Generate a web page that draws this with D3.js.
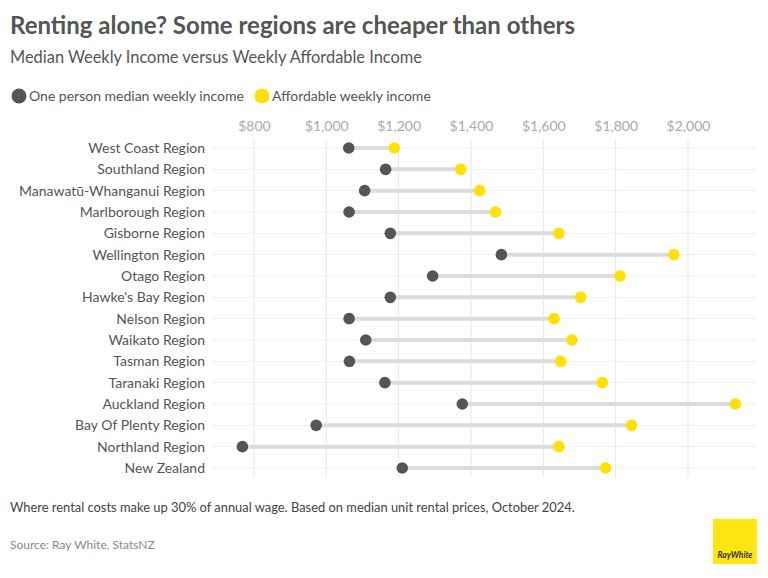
<!DOCTYPE html>
<html>
<head>
<meta charset="utf-8">
<script src="https://cdn.jsdelivr.net/npm/d3@7/dist/d3.min.js"></script>
<style>
  body { margin: 0; background: #fff; }
  svg { display: block; font-family: Lato, "Open Sans", sans-serif; }
</style>
</head>
<body>
<svg id="chart" width="768" height="578"></svg>
<script>
const regions = ["West Coast Region","Southland Region","Manawatū-Whanganui Region","Marlborough Region","Gisborne Region","Wellington Region","Otago Region","Hawke's Bay Region","Nelson Region","Waikato Region","Tasman Region","Taranaki Region","Auckland Region","Bay Of Plenty Region","Northland Region","New Zealand"];
const medianIncome = [1062,1164,1106,1063,1177,1484,1294,1177,1063,1109,1064,1162,1376,972,768,1210];
const affordableIncome = [1188,1372,1424,1468,1643,1961,1812,1703,1630,1679,1648,1763,2131,1844,1643,1772];
const tickValues = [800,1000,1200,1400,1600,1800,2000];
const seriesNames = ["One person median weekly income","Affordable weekly income"];
const seriesColors = ["#555555","#ffe100"];

const svg = d3.select("#chart");
const x = d3.scaleLinear().domain([684, 2188]).range([212, 756]);
const y = d3.scalePoint().domain(regions).range([148, 468]);

// Title etc
svg.append("text").attr("x", 10).attr("y", 34).attr("font-size", 24).attr("font-weight", 700)
  .attr("fill", "#555").text("Renting alone? Some regions are cheaper than others");
svg.append("text").attr("x", 10).attr("y", 63).attr("font-size", 16.4)
  .attr("fill", "#555").text("Median Weekly Income versus Weekly Affordable Income");

// Legend
const legendX = [19, 262];
seriesNames.forEach((n, i) => {
  svg.append("circle").attr("cx", legendX[i]).attr("cy", 96).attr("r", 7.5).attr("fill", seriesColors[i]);
  svg.append("text").attr("x", legendX[i] + 10).attr("y", 101).attr("font-size", 14)
    .attr("fill", "#555").text(n);
});

// Vertical grid + top axis
const gAxis = svg.append("g").attr("transform", "translate(0,140)");
gAxis.call(d3.axisTop(x).tickValues(tickValues).tickSize(0).tickPadding(0)
  .tickFormat(d => "$" + d3.format(",")(d)));
gAxis.select(".domain").remove();
gAxis.selectAll("text").attr("font-family", "Lato, sans-serif").attr("font-size", 14)
  .attr("fill", "#aaa").attr("y", -9);

svg.append("g").selectAll("line").data(tickValues).join("line")
  .attr("x1", d => x(d)).attr("x2", d => x(d)).attr("y1", 140).attr("y2", 477)
  .attr("stroke", "#e6e6e6").attr("stroke-width", 1);

// Horizontal grid
svg.append("g").selectAll("line").data(regions).join("line")
  .attr("x1", 212).attr("x2", 756).attr("y1", d => y(d)).attr("y2", d => y(d))
  .attr("stroke", "#eeeeee").attr("stroke-width", 1);

// Row labels
const gY = svg.append("g").attr("transform", "translate(205,0)");
gY.call(d3.axisLeft(y).tickSize(0).tickPadding(0));
gY.select(".domain").remove();
gY.selectAll("text").attr("font-family", "Lato, sans-serif").attr("font-size", 14)
  .attr("fill", "#555");

// Connectors
svg.append("g").selectAll("line").data(regions).join("line")
  .attr("x1", (d, i) => x(medianIncome[i])).attr("x2", (d, i) => x(affordableIncome[i]))
  .attr("y1", d => y(d)).attr("y2", d => y(d))
  .attr("stroke", "#dcdcdc").attr("stroke-width", 4);

// Dots
svg.append("g").selectAll("circle").data(regions).join("circle")
  .attr("cx", (d, i) => x(medianIncome[i])).attr("cy", d => y(d)).attr("r", 5.8)
  .attr("fill", seriesColors[0]);
svg.append("g").selectAll("circle").data(regions).join("circle")
  .attr("cx", (d, i) => x(affordableIncome[i])).attr("cy", d => y(d)).attr("r", 5.8)
  .attr("fill", seriesColors[1]);

// Footer
svg.append("text").attr("x", 10).attr("y", 512).attr("font-size", 12.9)
  .attr("fill", "#444").text("Where rental costs make up 30% of annual wage. Based on median unit rental prices, October 2024.");
svg.append("text").attr("x", 10).attr("y", 549).attr("font-size", 12)
  .attr("fill", "#888").text("Source: Ray White, StatsNZ");

// Logo
svg.append("rect").attr("x", 713).attr("y", 519).attr("width", 44).attr("height", 45).attr("fill", "#ffe512");
svg.append("text").attr("x", 735).attr("y", 558).attr("text-anchor", "middle").attr("font-size", 8.5)
  .attr("font-weight", 700).attr("font-style", "italic").attr("fill", "#333")
  .attr("textLength", 35).text("RayWhite");
</script>
</body>
</html>
